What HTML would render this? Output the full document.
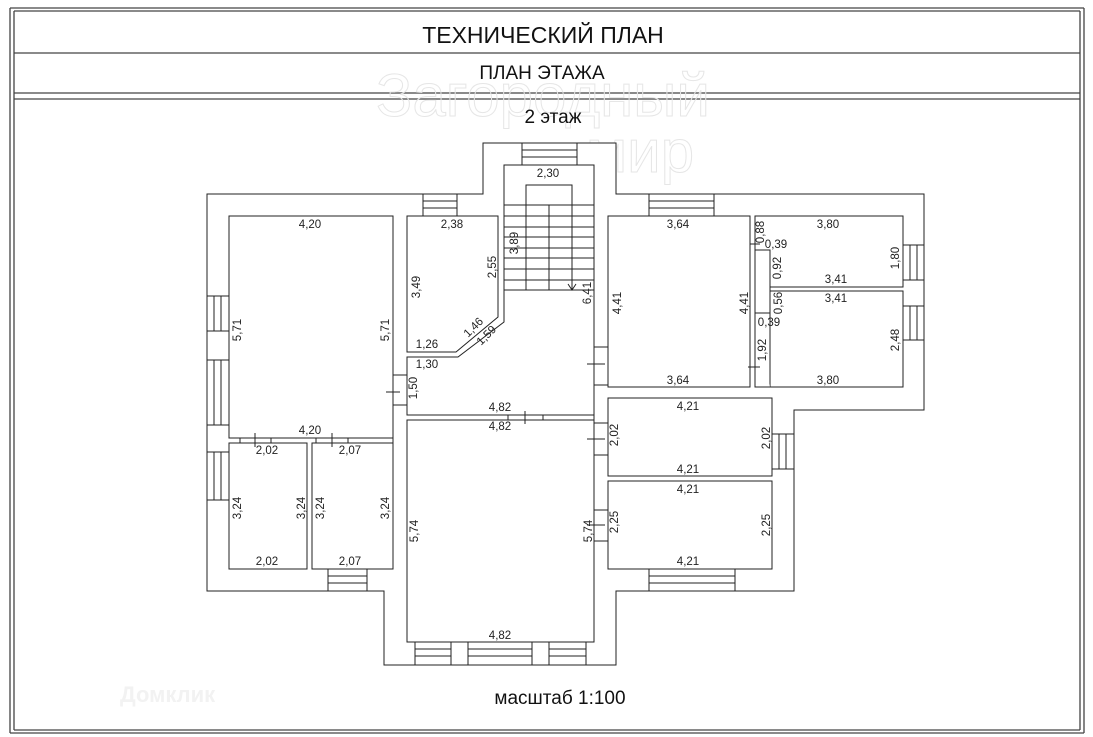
<!DOCTYPE html>
<html><head><meta charset="utf-8"><style>
html,body{margin:0;padding:0;background:#fff;}
svg{display:block;}
text{font-family:"Liberation Sans",sans-serif;fill:#111;}
.d{font-size:11.5px;text-anchor:middle;fill:#222;}
</style></head><body>
<svg width="1093" height="737" viewBox="0 0 1093 737" xmlns="http://www.w3.org/2000/svg">
<rect width="1093" height="737" fill="#fff"/>
<g fill="none" stroke="#444" stroke-width="1.3">
<line x1="10" y1="8" x2="1084" y2="8"/>
<line x1="10" y1="8" x2="10" y2="733"/>
<line x1="14" y1="11" x2="14" y2="730"/>
<line x1="1084" y1="8" x2="1084" y2="733"/>
<line x1="1080" y1="11" x2="1080" y2="730"/>
<line x1="10" y1="733" x2="1084" y2="733"/>
<line x1="14" y1="730" x2="1080" y2="730"/>
<line x1="14" y1="11" x2="1080" y2="11"/>
<line x1="14" y1="53" x2="1080" y2="53"/>
<line x1="14" y1="93" x2="1080" y2="93"/>
<line x1="14" y1="99" x2="1080" y2="99"/>
</g>
<text x="543" y="116" style="font-size:60px;text-anchor:middle;fill:none;stroke:#e6e6e6;stroke-width:1">Загородный</text>
<text x="640" y="172" style="font-size:60px;text-anchor:middle;fill:none;stroke:#e6e6e6;stroke-width:1">мир</text>
<text x="543" y="43" style="font-size:23px;text-anchor:middle">ТЕХНИЧЕСКИЙ ПЛАН</text>
<text x="542" y="79" style="font-size:19px;text-anchor:middle">ПЛАН ЭТАЖА</text>
<text x="553" y="123" style="font-size:19px;text-anchor:middle">2 этаж</text>
<text x="120" y="702" style="font-size:22px;fill:#f2f2f2;font-weight:bold">Домклик</text>
<text x="560" y="704" style="font-size:19px;text-anchor:middle">масштаб 1:100</text>

<g fill="#fff" stroke="#222" stroke-width="1">
<polygon points="207,194 483,194 483,143 616,143 616,194 924,194 924,410 794,410 794,591 616,591 616,665 384,665 384,591 207,591"/>
<rect x="229" y="216" width="164" height="222"/>
<rect x="229" y="443" width="78" height="126"/>
<rect x="312" y="443" width="81" height="126"/>
<polygon points="407,216 498,216 498,317 456,352 407,352"/>
<polygon points="504,165 594,165 594,415 407,415 407,357 458,357 504,322"/>
<rect x="407" y="420" width="187" height="222"/>
<rect x="608" y="216" width="142" height="171"/>
<rect x="755" y="216" width="148" height="71"/>
<rect x="770" y="291" width="133" height="96"/>
<polyline points="755,287 755,387 770,387"/>
<rect x="755" y="250" width="15" height="63"/>
<rect x="608" y="398" width="164" height="78"/>
<rect x="608" y="481" width="164" height="88"/>
</g>
<g stroke="#222" stroke-width="1" fill="none">
<polyline points="526,205 526,185 572,185 572,290"/>
<line x1="549" y1="205" x2="549" y2="290"/>
<line x1="526" y1="205" x2="526" y2="290"/>
<line x1="504" y1="205" x2="594" y2="205"/>
<line x1="504" y1="216" x2="594" y2="216"/>
<line x1="504" y1="227" x2="594" y2="227"/>
<line x1="504" y1="237" x2="594" y2="237"/>
<line x1="504" y1="248" x2="594" y2="248"/>
<line x1="504" y1="258" x2="594" y2="258"/>
<line x1="504" y1="269" x2="594" y2="269"/>
<line x1="504" y1="280" x2="594" y2="280"/>
<line x1="504" y1="290" x2="594" y2="290"/>
<polyline points="568,284 572,290 576,284"/>
<line x1="498" y1="216" x2="498" y2="317"/>
<line x1="594" y1="165" x2="594" y2="569"/>
<line x1="393" y1="216" x2="393" y2="569"/>
<line x1="393" y1="375" x2="407" y2="375"/><line x1="393" y1="405" x2="407" y2="405"/><line x1="386" y1="392" x2="400" y2="392"/>
<line x1="594" y1="347" x2="608" y2="347"/><line x1="594" y1="385" x2="608" y2="385"/><line x1="587" y1="364" x2="605" y2="364"/>
<line x1="594" y1="423" x2="608" y2="423"/><line x1="594" y1="455" x2="608" y2="455"/><line x1="587" y1="439" x2="605" y2="439"/>
<line x1="594" y1="510" x2="608" y2="510"/><line x1="594" y1="541" x2="608" y2="541"/><line x1="587" y1="525" x2="605" y2="525"/>
<line x1="508" y1="415" x2="508" y2="420"/><line x1="525" y1="411" x2="525" y2="424"/><line x1="543" y1="415" x2="543" y2="420"/>
<line x1="240" y1="438" x2="240" y2="443"/><line x1="255" y1="433" x2="255" y2="447"/><line x1="271" y1="438" x2="271" y2="443"/>
<line x1="316" y1="438" x2="316" y2="443"/><line x1="332" y1="433" x2="332" y2="447"/><line x1="348" y1="438" x2="348" y2="443"/>
<line x1="750" y1="244" x2="760" y2="244"/><line x1="748" y1="367" x2="760" y2="367"/>
<g>
<rect x="423" y="194" width="34" height="22" fill="#fff"/><line x1="423" y1="201" x2="457" y2="201"/><line x1="423" y1="208" x2="457" y2="208"/>
<rect x="522" y="143" width="55" height="22" fill="#fff"/><line x1="522" y1="150" x2="577" y2="150"/><line x1="522" y1="157" x2="577" y2="157"/>
<rect x="649" y="194" width="65" height="22" fill="#fff"/><line x1="649" y1="201" x2="714" y2="201"/><line x1="649" y1="208" x2="714" y2="208"/>
<rect x="649" y="569" width="86" height="22" fill="#fff"/><line x1="649" y1="576" x2="735" y2="576"/><line x1="649" y1="583" x2="735" y2="583"/>
<rect x="328" y="569" width="39" height="22" fill="#fff"/><line x1="328" y1="576" x2="367" y2="576"/><line x1="328" y1="583" x2="367" y2="583"/>
<rect x="415" y="642" width="36" height="23" fill="#fff"/><line x1="415" y1="649" x2="451" y2="649"/><line x1="415" y1="656" x2="451" y2="656"/>
<rect x="468" y="642" width="64" height="23" fill="#fff"/><line x1="468" y1="649" x2="532" y2="649"/><line x1="468" y1="656" x2="532" y2="656"/>
<rect x="549" y="642" width="37" height="23" fill="#fff"/><line x1="549" y1="649" x2="586" y2="649"/><line x1="549" y1="656" x2="586" y2="656"/>
<rect x="207" y="296" width="22" height="35" fill="#fff"/><line x1="214" y1="296" x2="214" y2="331"/><line x1="221" y1="296" x2="221" y2="331"/>
<rect x="207" y="360" width="22" height="65" fill="#fff"/><line x1="214" y1="360" x2="214" y2="425"/><line x1="221" y1="360" x2="221" y2="425"/>
<rect x="207" y="452" width="22" height="48" fill="#fff"/><line x1="214" y1="452" x2="214" y2="500"/><line x1="221" y1="452" x2="221" y2="500"/>
<rect x="903" y="245" width="21" height="35" fill="#fff"/><line x1="910" y1="245" x2="910" y2="280"/><line x1="917" y1="245" x2="917" y2="280"/>
<rect x="903" y="306" width="21" height="34" fill="#fff"/><line x1="910" y1="306" x2="910" y2="340"/><line x1="917" y1="306" x2="917" y2="340"/>
<rect x="772" y="434" width="22" height="35" fill="#fff"/><line x1="779" y1="434" x2="779" y2="469"/><line x1="786" y1="434" x2="786" y2="469"/>
</g>
</g>
<g>
<text class="d" x="310" y="228">4,20</text>
<text class="d" x="310" y="434">4,20</text>
<text class="d" transform="translate(241,330) rotate(-90)">5,71</text>
<text class="d" transform="translate(389,330) rotate(-90)">5,71</text>
<text class="d" x="452" y="228">2,38</text>
<text class="d" transform="translate(420,287) rotate(-90)">3,49</text>
<text class="d" transform="translate(496,267) rotate(-90)">2,55</text>
<text class="d" transform="translate(518,243) rotate(-90)">3,89</text>
<text class="d" x="548" y="177">2,30</text>
<text class="d" transform="translate(591,293) rotate(-90)">6,41</text>
<text class="d" x="427" y="348">1,26</text>
<text class="d" x="427" y="368">1,30</text>
<text class="d" transform="translate(476,330) rotate(-45)">1,46</text>
<text class="d" transform="translate(489,338) rotate(-45)">1,59</text>
<text class="d" transform="translate(417,388) rotate(-90)">1,50</text>
<text class="d" x="500" y="411">4,82</text>
<text class="d" x="500" y="430">4,82</text>
<text class="d" transform="translate(418,531) rotate(-90)">5,74</text>
<text class="d" transform="translate(592,531) rotate(-90)">5,74</text>
<text class="d" x="500" y="639">4,82</text>
<text class="d" transform="translate(618,435) rotate(-90)">2,02</text>
<text class="d" transform="translate(618,522) rotate(-90)">2,25</text>
<text class="d" x="267" y="454">2,02</text>
<text class="d" x="350" y="454">2,07</text>
<text class="d" x="267" y="565">2,02</text>
<text class="d" x="350" y="565">2,07</text>
<text class="d" transform="translate(241,508) rotate(-90)">3,24</text>
<text class="d" transform="translate(305,508) rotate(-90)">3,24</text>
<text class="d" transform="translate(324,508) rotate(-90)">3,24</text>
<text class="d" transform="translate(389,508) rotate(-90)">3,24</text>
<text class="d" x="678" y="228">3,64</text>
<text class="d" x="678" y="384">3,64</text>
<text class="d" transform="translate(621,303) rotate(-90)">4,41</text>
<text class="d" transform="translate(748,303) rotate(-90)">4,41</text>
<text class="d" transform="translate(764,232) rotate(-90)">0,88</text>
<text class="d" x="776" y="248">0,39</text>
<text class="d" transform="translate(781,268) rotate(-90)">0,92</text>
<text class="d" x="836" y="283">3,41</text>
<text class="d" x="836" y="302">3,41</text>
<text class="d" transform="translate(782,303) rotate(-90)">0,56</text>
<text class="d" x="769" y="326">0,39</text>
<text class="d" transform="translate(766,350) rotate(-90)">1,92</text>
<text class="d" x="828" y="228">3,80</text>
<text class="d" x="828" y="384">3,80</text>
<text class="d" transform="translate(899,258) rotate(-90)">1,80</text>
<text class="d" transform="translate(899,340) rotate(-90)">2,48</text>
<text class="d" x="688" y="410">4,21</text>
<text class="d" x="688" y="473">4,21</text>
<text class="d" x="688" y="493">4,21</text>
<text class="d" x="688" y="565">4,21</text>
<text class="d" transform="translate(770,438) rotate(-90)">2,02</text>
<text class="d" transform="translate(770,525) rotate(-90)">2,25</text>
</g>
</svg>
</body></html>
